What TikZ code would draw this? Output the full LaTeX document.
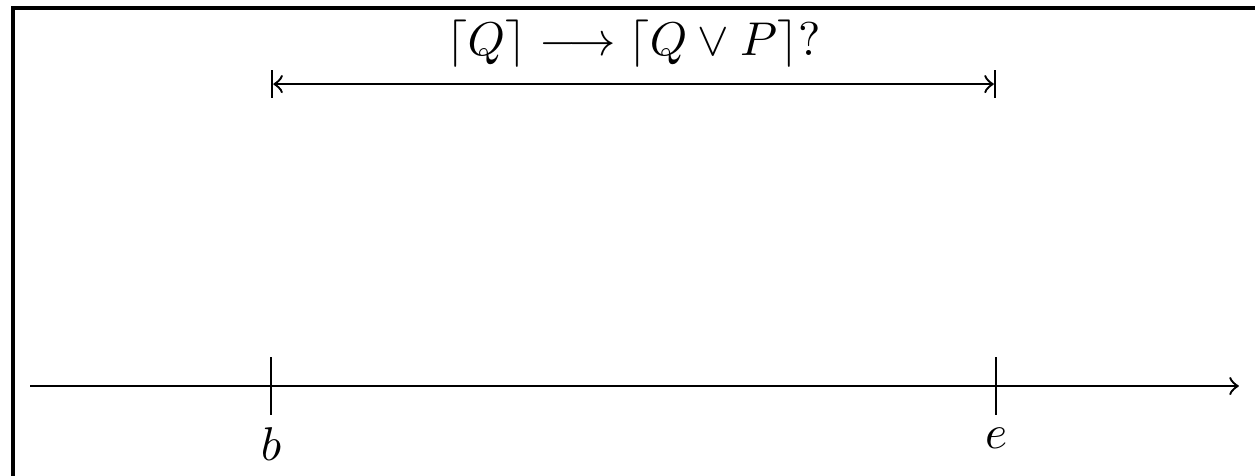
\documentclass[tikz,border=0pt]{standalone}
\usetikzlibrary{arrows}
\tikzset{
  axisline/.style={line width=0.5pt, ->, >=to},
  spanline/.style={line width=0.5pt, |<->|, >=to},
  tickline/.style={line width=0.5pt},
  frameline/.style={line width=0.85pt}
}
\begin{document}
\begin{tikzpicture}[x=1cm, y=1cm]
            \useasboundingbox (0,0) rectangle (9.31,3.524);
            % frame, right and bottom sides fall outside the page
            \draw[frameline] (0.093,-1) rectangle (10.5,3.468);
            % time axis
            \coordinate (xstart) at (0.223,0.66);
            \coordinate (xend) at (9.19,0.66);
            \coordinate (b) at (2.01,0.66);
            \coordinate (e) at (7.39,0.66);
            \draw[axisline] (xstart) -- (xend);
            \draw[tickline] ([yshift=2.15mm]b) -- ([yshift=-2.15mm]b) node[below, inner sep=2.5pt] {$b$};
            \draw[tickline] ([yshift=2.15mm]e) -- ([yshift=-2.15mm]e) node[below, inner sep=2.5pt] {$e$};
            % interval
            \coordinate (bt) at (2.01,2.90);
            \coordinate (et) at (7.39,2.90);
            \draw[spanline] (bt) -- (et) node[midway, above] (q) {$\lceil Q\rceil \longrightarrow \lceil Q\vee P\rceil?$};
        \end{tikzpicture}
\end{document}
